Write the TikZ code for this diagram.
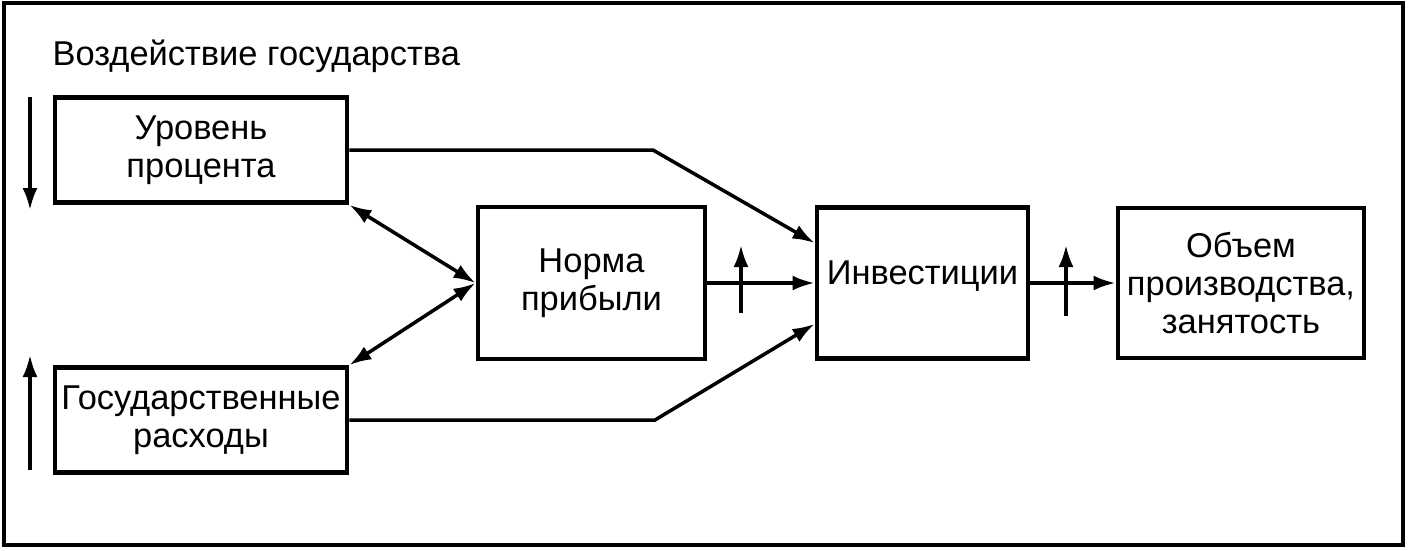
\documentclass[tikz,border=0pt]{standalone}
\usepackage{fontspec}
\setmainfont{Liberation Sans}
\usetikzlibrary{arrows.meta}
\pgfdeclarelayer{bg}
\pgfsetlayers{bg,main}
\tikzset{
    block/.style={rectangle, draw, line width=1.4pt, align=center, inner sep=0mm,
        font=\fontsize{9.8}{10.9}\selectfont}
}
\tikzset{
    link/.style={line width=1pt, -{Latex[length=2.2mm,width=1.5mm]}},
    twolink/.style={line width=1pt, {Latex[length=2.2mm,width=1.5mm]}-{Latex[length=2.2mm,width=1.5mm]}}
}

\begin{document}
\begin{tikzpicture}
    \useasboundingbox (0cm, 0cm) rectangle (14.1cm, 5.5cm);
    \draw[line width=1pt] (0.04cm, 0.05cm) rectangle (14.03cm, 5.47cm);

    \node (title) [anchor=base west, inner sep=0mm, font=\fontsize{9.8}{10.9}\selectfont] at (0.52cm, 4.85cm) {Воздействие государства};
    \node (uroven) [block, minimum width=2.92cm, minimum height=1.05cm] at (2.01cm, 4.0cm) {Уровень\\процента};
    \node (gosrash) [block, minimum width=2.92cm, minimum height=1.05cm] at (2.01cm, 1.3cm) {Государственные\\расходы};
    \node (norma) [block, minimum width=2.27cm, minimum height=1.52cm] at (5.915cm, 2.67cm) {Норма\\прибыли};
    \node (invest) [block, minimum width=2.11cm, minimum height=1.51cm, text height=0.23cm, text depth=0.2cm] at (9.225cm, 2.67cm) {Инвестиции};
    \node (obyem) [block, minimum width=2.46cm, minimum height=1.50cm] at (12.41cm, 2.67cm) {Объем\\производства,\\занятость};

    \coordinate (dn0) at (0.30cm, 4.53cm);
    \coordinate (dn1) at (0.30cm, 3.40cm);
    \coordinate (up0) at (0.30cm, 0.80cm);
    \coordinate (up1) at (0.30cm, 1.95cm);
    \coordinate (bend0) at (6.53cm, 4.0cm);
    \coordinate (bend1) at (6.55cm, 1.3cm);
    \coordinate (ra0) at (7.41cm, 2.37cm);
    \coordinate (ra1) at (7.41cm, 3.05cm);
    \coordinate (rb0) at (10.66cm, 2.34cm);
    \coordinate (rb1) at (10.66cm, 3.05cm);

    \begin{pgfonlayer}{bg}
        \draw[link] (dn0) -- (dn1);
        \draw[link] (up0) -- (up1);

        \draw[link] (uroven.east) -- (bend0) -- ([yshift=4mm]invest.west);
        \draw[link] (gosrash.east) -- (bend1) -- ([yshift=-4.1mm]invest.west);
        \draw[link] (norma.east) -- (invest.west);
        \draw[link] (invest.east) -- (obyem.west);

        \draw[twolink] (uroven.south east) -- (norma.west);
        \draw[twolink] (gosrash.north east) -- (norma.west);

        \draw[link] (ra0) -- (ra1);
        \draw[link] (rb0) -- (rb1);
    \end{pgfonlayer}
\end{tikzpicture}
\end{document}
